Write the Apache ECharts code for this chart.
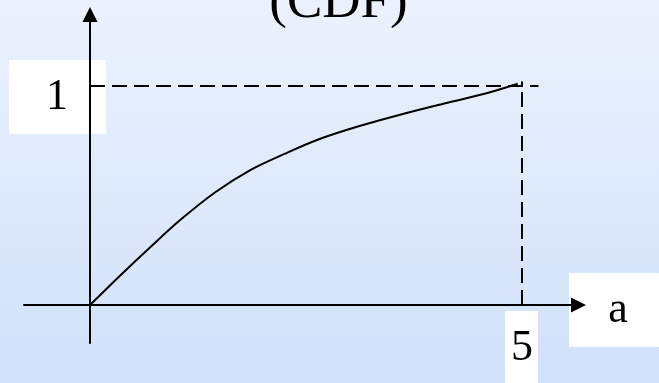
<!DOCTYPE html>
<html>
<head>
<meta charset="utf-8">
<script src="https://cdn.jsdelivr.net/npm/echarts@6/dist/echarts.min.js"></script>
<style>
html,body{margin:0;padding:0;}
#main{width:659px;height:383px;}
</style>
</head>
<body>
<div id="main"></div>
<script>
var titleText = '(CDF)';
var axisName = 'a';
// tick labels shown in white boxes
var xTickValues = [5];
var xTickLabels = ['5'];
var yTickValues = [1];
var yTickLabels = ['1'];
// CDF curve
var cdfX = [0, 0.35, 0.7, 1.05, 1.45, 1.85, 2.25, 2.65, 3.1, 3.6, 4.1, 4.6, 4.95];
var cdfY = [0, 0.135, 0.265, 0.39, 0.515, 0.615, 0.69, 0.757, 0.815, 0.87, 0.92, 0.968, 1.01];
// dashed guide lines
var guideH = [[0, 1], [5.19, 1]];
var guideV = [[5, 0], [5, 1.02]];
// axis ranges (axes stick out past the origin)
var xMin = -0.764, xMax = 5.654;
var yMin = -0.1735, yMax = 1.3265;

var serif = 'Liberation Serif, Times New Roman, serif';
var curve = [];
for (var i = 0; i < cdfX.length; i++) {
	curve.push([cdfX[i], cdfY[i]]);
}

var mychart = echarts.init(document.getElementById('main'));
var axisLine = {
	onZero: true,
	symbol: ['none', 'triangle'],
	symbolSize: [15, 15],
	lineStyle: {color: '#000', width: 2}
};
var option = {
	animation: false,
	backgroundColor: new echarts.graphic.LinearGradient(0, 0, 0, 1, [
		{offset: 0, color: '#ebf2fd'},
		{offset: 1, color: '#d1e1fa'}
	]),
	grid: {left: 24, right: 80.5, top: 14.5, bottom: 40, outerBoundsMode: 'none'},
	xAxis: {
		type: 'value', min: xMin, max: xMax, z: 5,
		axisLine: axisLine,
		axisTick: {show: false}, axisLabel: {show: false}, splitLine: {show: false}
	},
	yAxis: {
		type: 'value', min: yMin, max: yMax, z: 5,
		axisLine: axisLine,
		axisTick: {show: false}, axisLabel: {show: false}, splitLine: {show: false}
	},
	series: [{
		type: 'line', data: guideH, symbol: 'none', z: 6,
		lineStyle: {color: '#000', width: 2, type: [15, 7]}
	}, {
		type: 'line', data: guideV, symbol: 'none', z: 6,
		lineStyle: {color: '#000', width: 2, type: [15, 7]}
	}, {
		type: 'line', data: curve, symbol: 'none', smooth: 0.35, z: 7,
		lineStyle: {color: '#000', width: 2}
	}]
};
mychart.setOption(option);

// white label boxes placed from the axis scales
var g = [];
var py = mychart.convertToPixel({gridIndex: 0}, [0, yTickValues[0]]);
g.push({type: 'rect', z: 1, shape: {x: py[0] - 81, y: py[1] - 26, width: 97, height: 74}, style: {fill: '#fff'}});
g.push({type: 'text', z: 2, style: {text: yTickLabels[0], x: py[0] - 33, y: py[1] + 11, font: '44px ' + serif, fill: '#000', align: 'center', verticalAlign: 'middle'}});

var px = mychart.convertToPixel({gridIndex: 0}, [xTickValues[0], 0]);
g.push({type: 'rect', z: 1, shape: {x: px[0] - 17, y: px[1] + 6, width: 33, height: 90}, style: {fill: '#fff'}});
g.push({type: 'text', z: 2, style: {text: xTickLabels[0], x: px[0], y: px[1] + 43, font: '44px ' + serif, fill: '#000', align: 'center', verticalAlign: 'middle'}});

var pe = mychart.convertToPixel({gridIndex: 0}, [xMax, 0]);
g.push({type: 'rect', z: 1, shape: {x: pe[0] - 9.5, y: pe[1] - 32, width: 100, height: 74}, style: {fill: '#fff'}});
g.push({type: 'text', z: 2, style: {text: axisName, x: pe[0] + 39.5, y: pe[1] + 5, font: '44px ' + serif, fill: '#000', align: 'center', verticalAlign: 'middle'}});

g.push({type: 'text', z: 2, style: {text: titleText, x: 338.5, y: 3.5, font: '53px ' + serif, fill: '#000', align: 'center', verticalAlign: 'middle'}});

mychart.setOption({graphic: g});
</script>
</body>
</html>
